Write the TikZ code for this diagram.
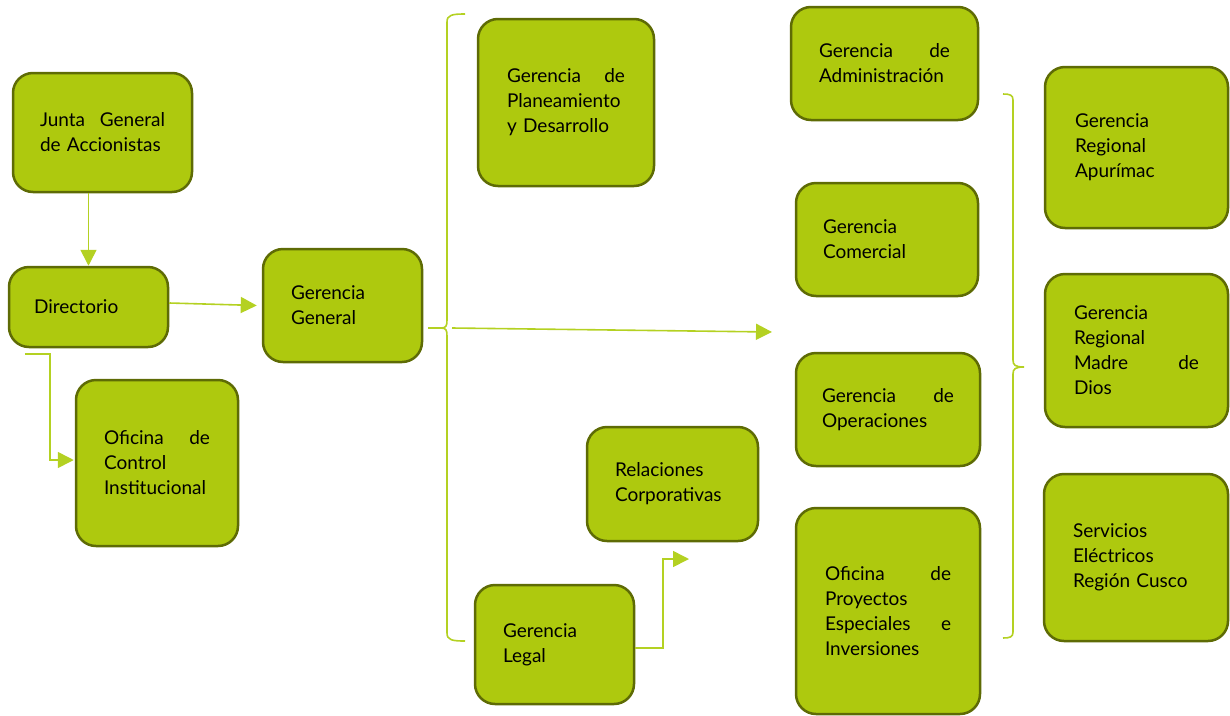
\documentclass[tikz,border=0pt]{standalone}
\usepackage{fontspec}
\setmainfont{Lato}
\usetikzlibrary{arrows.meta}
\definecolor{boxfill}{HTML}{AEC90E}
\definecolor{boxline}{HTML}{5E6B05}
\definecolor{conncol}{HTML}{B4D122}
\tikzset{
  box/.style={draw=boxline, fill=boxfill, line width=2.5pt, rounded corners=20pt,
    inner sep=0pt, align=left, font=\fontsize{19}{25}\selectfont},
  conn/.style={draw=conncol, line width=1.6pt},
  arr/.style={conn, -{Triangle[length=16pt,width=16pt]}},
}
\begin{document}
\begin{tikzpicture}[x=1pt,y=-1pt]
\useasboundingbox (0,0) rectangle (1230,715);

\node[box, minimum width=179pt, minimum height=119pt, text width=125pt] (junta) at (102.5,132.5) {Junta\hfill General\\de Accionistas};
\node[box, minimum width=159pt, minimum height=80pt, text width=109pt] (dir) at (88.5,307) {Directorio};
\node[box, minimum width=162pt, minimum height=166pt, text width=106pt] (ofi) at (157,463) {Oficina\hfill de\\Control\\Institucional};
\node[box, minimum width=159pt, minimum height=113pt, text width=103pt] (gg) at (342.5,305.5) {Gerencia\\General};
\node[box, minimum width=176pt, minimum height=167pt, text width=118pt] (plan) at (566,102.5) {Gerencia\hfill de\\Planeamiento\\y Desarrollo};
\node[box, minimum width=171pt, minimum height=114pt, text width=115pt] (rel) at (672.5,484) {Relaciones\\Corporativas};
\node[box, minimum width=159pt, minimum height=119pt, text width=103pt] (legal) at (554.5,644.5) {Gerencia\\Legal};
\node[box, minimum width=187pt, minimum height=113pt, text width=131pt] (adm) at (884.5,63.5) {Gerencia\hfill de\\Administración};
\node[box, minimum width=182pt, minimum height=113pt, text width=128pt] (com) at (887,239.5) {Gerencia\\Comercial};
\node[box, minimum width=184pt, minimum height=113pt, text width=132pt] (ope) at (888,409.5) {Gerencia\hfill de\\Operaciones};
\node[box, minimum width=184pt, minimum height=206pt, text width=126pt] (proy) at (888,611) {Oficina\hfill de\\Proyectos\\Especiales\hfill e\\Inversiones};
\node[box, minimum width=183pt, minimum height=161pt, text width=123pt] (apu) at (1136.5,147.5) {Gerencia\\Regional\\Apurímac};
\node[box, minimum width=183pt, minimum height=153pt, text width=125pt] (mdd) at (1136.5,350.5) {Gerencia\\Regional\\Madre\hfill de\\Dios};
\node[box, minimum width=184pt, minimum height=167pt, text width=126pt] (cus) at (1136,557.5) {Servicios\\Eléctricos\\Región Cusco};

% connectors
\draw[arr] (dir.north |- junta.south) -- (dir.north);
\draw[arr] ([yshift=4pt]dir.east) -- ([xshift=-5pt]gg.west);
\draw[arr] ([xshift=17pt,yshift=-6pt]dir.south west) -| ([xshift=-25pt,yshift=3pt]ofi.west) -- ([xshift=-1pt,yshift=3pt]ofi.west);

% left brace
\draw[conn] (465,14) .. controls (452,14) and (447,15) .. (447,22) -- (447,320) .. controls (447,326) and (446,328) .. (441,328) .. controls (446,328) and (447,330) .. (447,336) -- (447,633) .. controls (447,640) and (452,641) .. (465,641);
\coordinate (lbt) at (441,328);
\draw[conn, shorten <=5pt] (gg.east |- lbt) -- (lbt);
\coordinate (ma1) at (452,328);
\coordinate (ma2) at (772,332);
\draw[arr] (ma1) -- (ma2);

% legal to relaciones
\coordinate (rc) at (689,559);
\draw[arr] ([yshift=-3.5pt]legal.east) -| ([xshift=-26pt]rc) -- (rc);

% right brace
\draw[conn] (1003,94) .. controls (1010,94) and (1013,95) .. (1013,100) -- (1013,360) .. controls (1013,365) and (1015,367) .. (1024,367) .. controls (1015,367) and (1013,369) .. (1013,374) -- (1013,632) .. controls (1013,637) and (1010,638) .. (1003,638);
\end{tikzpicture}
\end{document}
